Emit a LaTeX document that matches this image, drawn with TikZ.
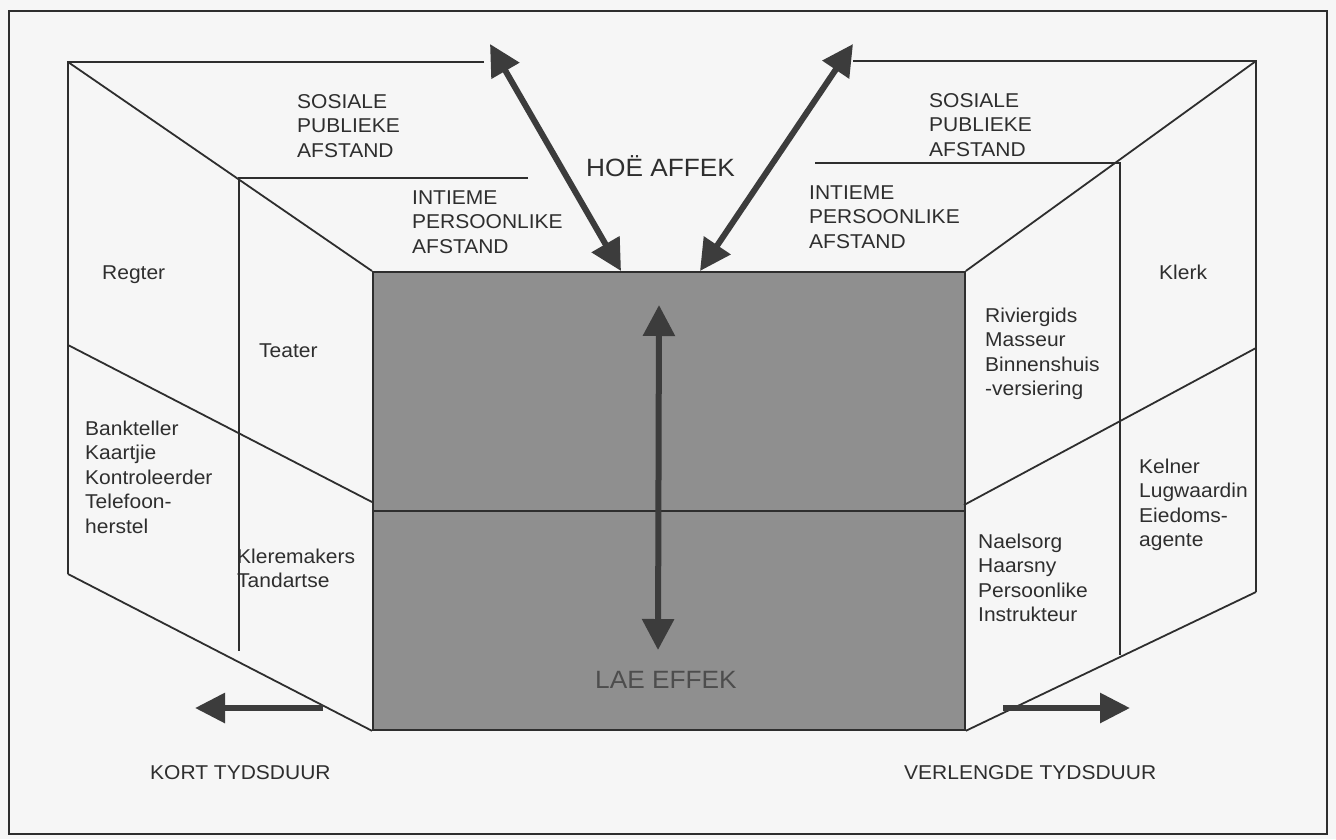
\documentclass[tikz,border=0pt]{standalone}
\usepackage{fontspec}
\setmainfont[FakeStretch=1.05]{Liberation Sans}
\usetikzlibrary{arrows.meta}
\definecolor{ink}{HTML}{2E2E2E}
\definecolor{paper}{HTML}{F6F6F6}
\definecolor{panel}{HTML}{8F8F8F}
\definecolor{shaft}{HTML}{3C3C3C}
\tikzset{
  rule/.style={draw=ink, line width=1.8pt},
  % multi-line labels: the base anchor sits on the baseline of the last line
  lbl/.style={text=ink, anchor=base west, align=left, inner sep=0pt,
    font=\fontsize{20}{24.5}\selectfont},
  biglbl/.style={text=ink, anchor=base west, inner sep=0pt,
    font=\fontsize{25}{30}\selectfont},
  dblarrow/.style={draw=shaft, line width=6pt,
    {Triangle[length=31pt,width=31pt]}-{Triangle[length=31pt,width=31pt]}},
  onearrow/.style={draw=shaft, line width=6pt,
    -{Triangle[length=30pt,width=29pt]}},
}
\begin{document}
\begin{tikzpicture}[x=1pt,y=-1pt]
  % page and outer frame
  \fill[paper] (0,0) rectangle (1336,839);
  \useasboundingbox (0,0) rectangle (1336,839);
  \draw[draw=ink, line width=1.5pt] (9,11) rectangle (1327,834);

  % central panel (high / low effect)
  \node[draw=ink, line width=1.8pt, fill=panel, minimum width=592pt,
        minimum height=458pt, inner sep=0pt, anchor=north west] (box) at (372,271) {};
  \coordinate (midW) at (372,511);
  \coordinate (midE) at (964,511);
  \draw[rule] (midW) -- (midE);

  % left wing: outer (social / public) frame
  \coordinate (oL1) at (68,62);
  \coordinate (oL2) at (484,62);
  \coordinate (oL3) at (68,574);
  \coordinate (oL4) at (68,345);
  \coordinate (bLmid) at (372,502);
  \draw[rule] (oL2) -- (oL1) -- (oL3);
  \draw[rule] (oL1) -- (box.north west);
  \draw[rule] (oL4) -- (bLmid);
  \draw[rule] (oL3) -- (box.south west);
  % left wing: inner (intimate / personal) frame
  \coordinate (iL1) at (239,178);
  \coordinate (iL2) at (528,178);
  \coordinate (iL3) at (239,651);
  \draw[rule] (iL2) -- (iL1) -- (iL3);

  % right wing: outer frame
  \coordinate (oR1) at (1256,61);
  \coordinate (oR2) at (853,61);
  \coordinate (oR3) at (1256,592);
  \coordinate (oR4) at (1256,348);
  \coordinate (bRmid) at (964,505);
  \draw[rule] (oR2) -- (oR1) -- (oR3);
  \draw[rule] (oR1) -- (box.north east);
  \draw[rule] (oR4) -- (bRmid);
  \draw[rule] (oR3) -- (box.south east);
  % right wing: inner frame
  \coordinate (iR1) at (1120,163);
  \coordinate (iR2) at (815,163);
  \coordinate (iR3) at (1120,655);
  \draw[rule] (iR2) -- (iR1) -- (iR3);

  % arrows
  \coordinate (aL1) at (490,44);
  \coordinate (aL2) at (621,271);
  \coordinate (aR1) at (853,44);
  \coordinate (aR2) at (700,271);
  \coordinate (aV1) at (659,305);
  \coordinate (aV2) at (658,650);
  \coordinate (hL1) at (323,708);
  \coordinate (hL2) at (195,708);
  \coordinate (hR1) at (1003,708);
  \coordinate (hR2) at (1130,708);
  \draw[dblarrow] (aL1) -- (aL2);
  \draw[dblarrow] (aR1) -- (aR2);
  \draw[dblarrow] (aV1) -- (aV2);
  \draw[onearrow] (hL1) -- (hL2);
  \draw[onearrow] (hR1) -- (hR2);

  % labels
  \node[biglbl] (hoe) at (586,176) {HOË AFFEK};
  \node[biglbl, text=ink!85!white] (lae) at (595,688) {LAE EFFEK};
  \node[lbl] (sosL) at (297,157) {SOSIALE\\PUBLIEKE\\AFSTAND};
  \node[lbl] (intL) at (412,253) {INTIEME\\PERSOONLIKE\\AFSTAND};
  \node[lbl] (sosR) at (929,156) {SOSIALE\\PUBLIEKE\\AFSTAND};
  \node[lbl] (intR) at (809,248) {INTIEME\\PERSOONLIKE\\AFSTAND};
  \node[lbl] (regter) at (102,279) {Regter};
  \node[lbl] (teater) at (259,357) {Teater};
  \node[lbl] (bank) at (85,533) {Bankteller\\Kaartjie\\Kontroleerder\\Telefoon-\\herstel};
  \node[lbl] (klere) at (237,587.5) {Kleremakers\\Tandartse};
  \node[lbl] (klerk) at (1159,279) {Klerk};
  \node[lbl] (rivier) at (985,395.5) {Riviergids\\Masseur\\Binnenshuis\\-versiering};
  \node[lbl] (kelner) at (1139,546.5) {Kelner\\Lugwaardin\\Eiedoms-\\agente};
  \node[lbl] (nael) at (978,621.5) {Naelsorg\\Haarsny\\Persoonlike\\Instrukteur};
  \node[lbl] (kort) at (150,779) {KORT TYDSDUUR};
  \node[lbl] (verl) at (904,779) {VERLENGDE TYDSDUUR};
\end{tikzpicture}
\end{document}
